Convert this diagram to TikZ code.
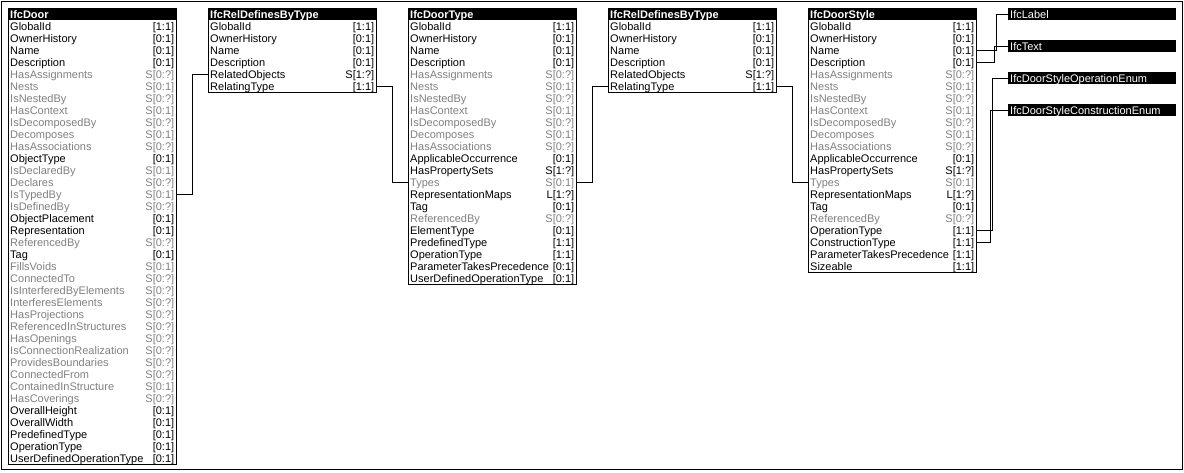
\documentclass[tikz,border=0pt]{standalone}
\usepackage{fontspec}
\setmainfont{Liberation Sans}
\definecolor{dim}{RGB}{128,128,128}
\newcommand{\diagfont}{\fontsize{11}{12}\selectfont}
\tikzset{
  cell/.style={anchor=north west, minimum width=168pt, minimum height=12pt, inner sep=0pt, text height=9.5pt, text depth=1.5pt, font=\diagfont},
  head/.style={cell, fill=black, text=white, font=\diagfont\bfseries},
  tag/.style={cell, fill=black, text=white},
  wire/.style={line width=1pt}
}
\newcommand{\Entity}[5]{%
  \node[head] (#1) at (#2,8) {\makebox[164pt][l]{#3}};
  \foreach \attr/\card/\col [count=\i] in {#5}
    \node[cell, text=\col] (#1-\i) at (#2,{8+12*\i}) {\makebox[164pt]{\attr\hfill\card}};
  \draw[wire] (#1.north west) rectangle (#1-#4.south east);
}

\begin{document}
\begin{tikzpicture}[x=1pt, y=-1pt]
\useasboundingbox (0,0) rectangle (1184,472);
\draw[wire] (1,1) rectangle (1182,469);

\Entity{door}{8}{IfcDoor}{37}{GlobalId/[1:1]/black, OwnerHistory/[0:1]/black, Name/[0:1]/black, Description/[0:1]/black, HasAssignments/S[0:?]/dim, Nests/S[0:1]/dim, IsNestedBy/S[0:?]/dim, HasContext/S[0:1]/dim, IsDecomposedBy/S[0:?]/dim, Decomposes/S[0:1]/dim, HasAssociations/S[0:?]/dim, ObjectType/[0:1]/black, IsDeclaredBy/S[0:1]/dim, Declares/S[0:?]/dim, IsTypedBy/S[0:1]/dim, IsDefinedBy/S[0:?]/dim, ObjectPlacement/[0:1]/black, Representation/[0:1]/black, ReferencedBy/S[0:?]/dim, Tag/[0:1]/black, FillsVoids/S[0:1]/dim, ConnectedTo/S[0:?]/dim, IsInterferedByElements/S[0:?]/dim, InterferesElements/S[0:?]/dim, HasProjections/S[0:?]/dim, ReferencedInStructures/S[0:?]/dim, HasOpenings/S[0:?]/dim, IsConnectionRealization/S[0:?]/dim, ProvidesBoundaries/S[0:?]/dim, ConnectedFrom/S[0:?]/dim, ContainedInStructure/S[0:1]/dim, HasCoverings/S[0:?]/dim, OverallHeight/[0:1]/black, OverallWidth/[0:1]/black, PredefinedType/[0:1]/black, OperationType/[0:1]/black, UserDefinedOperationType/[0:1]/black}

\Entity{relA}{208}{IfcRelDefinesByType}{6}{GlobalId/[1:1]/black, OwnerHistory/[0:1]/black, Name/[0:1]/black, Description/[0:1]/black, RelatedObjects/S[1:?]/black, RelatingType/[1:1]/black}

\Entity{doortype}{408}{IfcDoorType}{22}{GlobalId/[1:1]/black, OwnerHistory/[0:1]/black, Name/[0:1]/black, Description/[0:1]/black, HasAssignments/S[0:?]/dim, Nests/S[0:1]/dim, IsNestedBy/S[0:?]/dim, HasContext/S[0:1]/dim, IsDecomposedBy/S[0:?]/dim, Decomposes/S[0:1]/dim, HasAssociations/S[0:?]/dim, ApplicableOccurrence/[0:1]/black, HasPropertySets/S[1:?]/black, Types/S[0:1]/dim, RepresentationMaps/L[1:?]/black, Tag/[0:1]/black, ReferencedBy/S[0:?]/dim, ElementType/[0:1]/black, PredefinedType/[1:1]/black, OperationType/[1:1]/black, ParameterTakesPrecedence/[0:1]/black, UserDefinedOperationType/[0:1]/black}

\Entity{relB}{608}{IfcRelDefinesByType}{6}{GlobalId/[1:1]/black, OwnerHistory/[0:1]/black, Name/[0:1]/black, Description/[0:1]/black, RelatedObjects/S[1:?]/black, RelatingType/[1:1]/black}

\Entity{style}{808}{IfcDoorStyle}{21}{GlobalId/[1:1]/black, OwnerHistory/[0:1]/black, Name/[0:1]/black, Description/[0:1]/black, HasAssignments/S[0:?]/dim, Nests/S[0:1]/dim, IsNestedBy/S[0:?]/dim, HasContext/S[0:1]/dim, IsDecomposedBy/S[0:?]/dim, Decomposes/S[0:1]/dim, HasAssociations/S[0:?]/dim, ApplicableOccurrence/[0:1]/black, HasPropertySets/S[1:?]/black, Types/S[0:1]/dim, RepresentationMaps/L[1:?]/black, Tag/[0:1]/black, ReferencedBy/S[0:?]/dim, OperationType/[1:1]/black, ConstructionType/[1:1]/black, ParameterTakesPrecedence/[1:1]/black, Sizeable/[1:1]/black}

\node[tag] (label) at (1008,8) {\makebox[164pt][l]{IfcLabel}};
\node[tag] (text) at (1008,40) {\makebox[164pt][l]{IfcText}};
\node[tag] (openum) at (1008,72) {\makebox[164pt][l]{IfcDoorStyleOperationEnum}};
\node[tag] (conenum) at (1008,104) {\makebox[164pt][l]{IfcDoorStyleConstructionEnum}};

\draw[wire] (door-15.east) -- ++(16,0) |- (relA-5.west);
\draw[wire] (relA-6.east) -- ++(16,0) |- (doortype-14.west);
\draw[wire] (doortype-14.east) -- ++(16,0) |- (relB-6.west);
\draw[wire] (relB-6.east) -- ++(16,0) |- (style-14.west);
\draw[wire] (style-3.east) -- ++(20,0) |- (label.west);
\draw[wire] (style-4.east) -- ++(18,0) |- (text.west);
\draw[wire] (style-18.east) -- ++(16,0) |- (openum.west);
\draw[wire] (style-19.east) -- ++(14,0) |- (conenum.west);
\end{tikzpicture}
\end{document}
